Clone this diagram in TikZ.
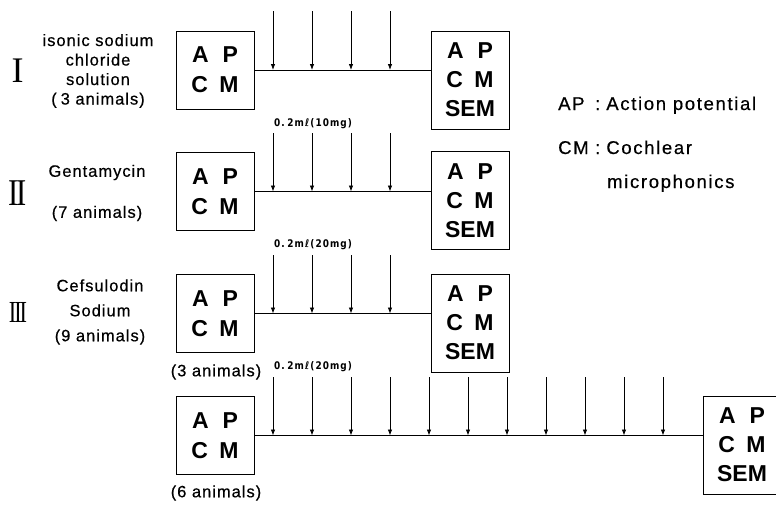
\documentclass[tikz,border=0pt]{standalone}
\usepackage{fontspec}
\setmainfont{Liberation Sans}
\newfontfamily\lblfont[LetterSpace=6,FakeBold=0.5]{Liberation Sans}
\newfontfamily\legfont[LetterSpace=9,FakeBold=0.5]{Liberation Sans}
\newfontfamily\boxfont{Liberation Sans Bold}
\newfontfamily\dosefont[LetterSpace=12]{DejaVu Sans Bold}
\newfontfamily\romfont{Liberation Serif}
\usetikzlibrary{arrows.meta}
\begin{document}
\begin{tikzpicture}[x=1pt,y=-1pt,
  every node/.style={inner sep=0pt},
  lbox/.style={draw,line width=0.8pt,minimum width=78pt,minimum height=78pt,align=center,
    font=\boxfont\fontsize{23}{30}\selectfont},
  rbox/.style={draw,line width=0.8pt,minimum width=78pt,minimum height=98pt,align=center,
    font=\boxfont\fontsize{23}{29}\selectfont},
  lbl/.style={align=center,font=\lblfont\fontsize{16.5}{19.5}\selectfont},
  legend/.style={anchor=base west,font=\legfont\fontsize{18.5}{20}\selectfont},
  dose/.style={anchor=base west,font=\dosefont\fontsize{10.5}{12}\selectfont},
  rom/.style={font=\romfont\fontsize{36}{36}\selectfont},
  inj/.style={line width=0.8pt,-{Latex[length=6pt,width=4.5pt]}},
  tl/.style={line width=0.8pt}]
\useasboundingbox (0,0) rectangle (776,507);
% boxes
\node[lbox] (L1) at (215,70) {A\hspace{0.6em}P\\C\hspace{0.5em}M};
\node[rbox] (R1) at (470,80) {A\hspace{0.6em}P\\C\hspace{0.5em}M\\SEM};
\node[lbox] (L2) at (215,191.5) {A\hspace{0.6em}P\\C\hspace{0.5em}M};
\node[rbox] (R2) at (470,200.5) {A\hspace{0.6em}P\\C\hspace{0.5em}M\\SEM};
\node[lbox] (L3) at (215,313.5) {A\hspace{0.6em}P\\C\hspace{0.5em}M};
\node[rbox] (R3) at (470,323) {A\hspace{0.6em}P\\C\hspace{0.5em}M\\SEM};
\node[lbox] (L4) at (215,435.5) {A\hspace{0.6em}P\\C\hspace{0.5em}M};
\node[rbox] (R4) at (742,445) {A\hspace{0.6em}P\\C\hspace{0.5em}M\\SEM};
% time lines
\draw[tl] (L1.east) -- (L1.east -| R1.west);
\draw[tl] (L2.east) -- (L2.east -| R2.west);
\draw[tl] (L3.east) -- (L3.east -| R3.west);
\draw[tl] (L4.east) -- (L4.east -| R4.west);
% injections rows I-III
\foreach \r/\t in {1/11,2/133,3/255}{
  \foreach \k in {0,...,3}{
    \coordinate (a\r-\k) at (273+39*\k,\t);
    \coordinate (b\r-\k) at (a\r-\k |- L\r.east);
    \draw[inj] (a\r-\k) -- (b\r-\k);
  }
}
\foreach \k in {0,...,10}{
  \coordinate (a4-\k) at (273+39*\k,377);
  \coordinate (b4-\k) at (a4-\k |- L4.east);
  \draw[inj] (a4-\k) -- (b4-\k);
}
% doses
\node[dose] (d1) at (274,126) {\scalebox{0.85}[1]{0.\hspace{3pt}2mℓ(10mg)}};
\node[dose] (d2) at (274,247) {\scalebox{0.85}[1]{0.\hspace{3pt}2mℓ(20mg)}};
\node[dose] (d3) at (274,369) {\scalebox{0.85}[1]{0.\hspace{3pt}2mℓ(20mg)}};
% roman numerals
\node[rom] (n1) at (17.5,70.5) {I};
\node[rom] (n2) at (17.5,193.5) {\scalebox{0.85}[1.05]{I\kern-3.2pt I}};
\node[rom] (n3) at (18,312.5) {\scalebox{0.62}[0.85]{I\kern-3.2pt I\kern-3.2pt I}};
% group labels
\node[lbl] (g1) at (98,71) {isonic sodium\\chloride\\solution\\(\hspace{4pt}3 animals)};
\node[lbl,font=\lblfont\fontsize{16.5}{41}\selectfont] (g2) at (97,193) {Gentamycin\\(7 animals)};
\node[lbl,font=\lblfont\fontsize{16.5}{25}\selectfont] (g3) at (100,312) {Cefsulodin\\Sodium\\(9 animals)};
\node[lbl] (s3) at (216,372) {(3 animals)};
\node[lbl] (s4) at (216,493) {(6 animals)};
% legend
\node[legend] (k1) at (558,110) {\makebox[37pt][l]{AP}:\hspace{6pt}Action potential};
\node[legend] (k2) at (558,154) {\makebox[37pt][l]{CM}:\hspace{6pt}Cochlear};
\node[legend] (k3) at (607,188) {microphonics};
\end{tikzpicture}
\end{document}
